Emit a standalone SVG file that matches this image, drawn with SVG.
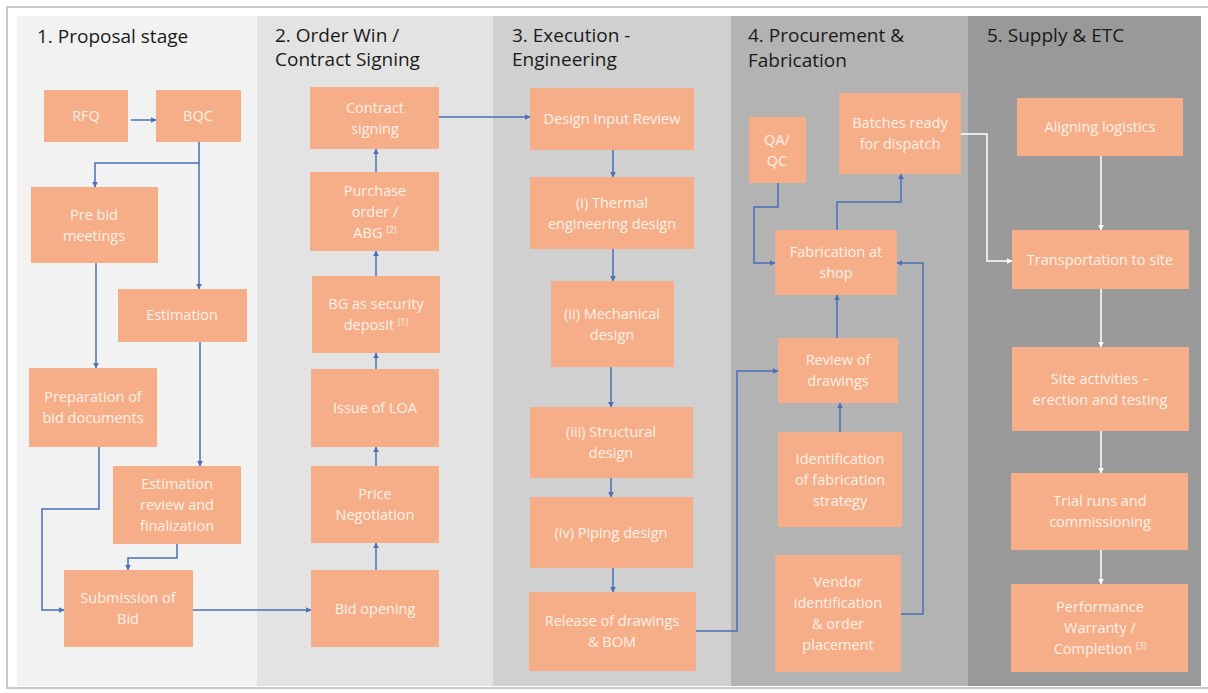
<svg xmlns="http://www.w3.org/2000/svg" width="1208" height="693" viewBox="0 0 1208 693">
<style>
.title{font-family:"Open Sans","Liberation Sans",sans-serif;font-size:19px;fill:#1a1a1a}
.node rect{fill:#f6ae89}
.node text{font-family:"Open Sans","Liberation Sans",sans-serif;font-size:14.5px;fill:#fdf1e8;text-anchor:middle}
.sup{font-size:8.5px}
.conn path{fill:none;stroke:#4a70b8;stroke-width:1.5}
.conn path.w{stroke:#ffffff}
</style>
<defs>
<marker id="ab" viewBox="0 0 10 10" refX="9" refY="5" markerWidth="6" markerHeight="6" orient="auto" markerUnits="userSpaceOnUse"><path d="M0,0 L10,5 L0,10 z" fill="#4a70b8"/></marker>
<marker id="aw" viewBox="0 0 10 10" refX="9" refY="5" markerWidth="6" markerHeight="6" orient="auto" markerUnits="userSpaceOnUse"><path d="M0,0 L10,5 L0,10 z" fill="#ffffff"/></marker>
</defs>
<rect x="0" y="0" width="1208" height="693" fill="#ffffff"/>
<rect x="7" y="7" width="1215" height="681" fill="#ffffff" stroke="#c8c8c8" stroke-width="2"/>
<g id="panels">
<rect x="17" y="16" width="240" height="670" fill="#f2f2f2"/>
<rect x="257" y="16" width="236" height="670" fill="#e3e3e3"/>
<rect x="493" y="16" width="238" height="670" fill="#d0d0d0"/>
<rect x="731" y="16" width="237" height="670" fill="#b3b3b3"/>
<rect x="968" y="16" width="233" height="670" fill="#999999"/>
</g>
<g id="titles">
<text class="title" x="37" y="43">1. Proposal stage</text>
<text class="title" x="275" y="42">2. Order Win /</text>
<text class="title" x="275" y="66">Contract Signing</text>
<text class="title" x="512" y="42">3. Execution -</text>
<text class="title" x="512" y="66">Engineering</text>
<text class="title" x="748" y="42">4. Procurement &amp;</text>
<text class="title" x="748" y="67">Fabrication</text>
<text class="title" x="987" y="42">5. Supply &amp; ETC</text>
</g>
<g id="connectors" class="conn">
<path d="M131,120 H156" marker-end="url(#ab)"/>
<path d="M199,142 V163 H95 V187" marker-end="url(#ab)"/>
<path d="M199,163 V289" marker-end="url(#ab)"/>
<path d="M96,263 V368" marker-end="url(#ab)"/>
<path d="M200,342 V466" marker-end="url(#ab)"/>
<path d="M99,447 V509 H42 V610 H64" marker-end="url(#ab)"/>
<path d="M177,544 V558 H128 V570" marker-end="url(#ab)"/>
<path d="M193,610 H311" marker-end="url(#ab)"/>
<path d="M376,570 V543" marker-end="url(#ab)"/>
<path d="M376,466 V447" marker-end="url(#ab)"/>
<path d="M376,369 V353" marker-end="url(#ab)"/>
<path d="M376,276 V251" marker-end="url(#ab)"/>
<path d="M376,172 V149" marker-end="url(#ab)"/>
<path d="M439,117 H530" marker-end="url(#ab)"/>
<path d="M613,150 V177" marker-end="url(#ab)"/>
<path d="M613,249 V281" marker-end="url(#ab)"/>
<path d="M611,367 V407" marker-end="url(#ab)"/>
<path d="M611,478 V497" marker-end="url(#ab)"/>
<path d="M613,568 V592" marker-end="url(#ab)"/>
<path d="M696,631 H737 V371 H778" marker-end="url(#ab)"/>
<path d="M778,183 V207 H754 V263 H775" marker-end="url(#ab)"/>
<path d="M837,230 V202 H901 V174" marker-end="url(#ab)"/>
<path d="M837,338 V295" marker-end="url(#ab)"/>
<path d="M840,432 V403" marker-end="url(#ab)"/>
<path d="M901,614 H923 V263 H897" marker-end="url(#ab)"/>
<path class="w" d="M961,134 H987 V261 H1012" marker-end="url(#aw)"/>
<path class="w" d="M1101,156 V230" marker-end="url(#aw)"/>
<path class="w" d="M1101,289 V347" marker-end="url(#aw)"/>
<path class="w" d="M1101,431 V473" marker-end="url(#aw)"/>
<path class="w" d="M1101,550 V584" marker-end="url(#aw)"/>
</g>
<g id="rfq" class="node"><rect x="44" y="90" width="84" height="52"/><text x="86" y="121">RFQ</text></g>
<g id="bqc" class="node"><rect x="156" y="90" width="85" height="52"/><text x="198" y="121">BQC</text></g>
<g id="prebid" class="node"><rect x="31" y="187" width="127" height="76"/><text x="94" y="219.5">Pre bid</text><text x="94" y="240.5">meetings</text></g>
<g id="estimation" class="node"><rect x="118" y="289" width="129" height="53"/><text x="182" y="320">Estimation</text></g>
<g id="prep" class="node"><rect x="29" y="368" width="128" height="79"/><text x="93" y="402">Preparation of</text><text x="93" y="423">bid documents</text></g>
<g id="estreview" class="node"><rect x="113" y="466" width="128" height="78"/><text x="177" y="489">Estimation</text><text x="177" y="510">review and</text><text x="177" y="531">finalization</text></g>
<g id="submission" class="node"><rect x="64" y="570" width="129" height="77"/><text x="128" y="603">Submission of</text><text x="128" y="624">Bid</text></g>
<g id="contract" class="node"><rect x="310" y="87" width="129" height="62"/><text x="375" y="112.5">Contract</text><text x="375" y="133.5">signing</text></g>
<g id="po" class="node"><rect x="310" y="172" width="129" height="79"/><text x="375" y="195.5">Purchase</text><text x="375" y="216.5">order /</text><text x="375" y="237.5">ABG <tspan class="sup" dy="-5">[2]</tspan></text></g>
<g id="bg" class="node"><rect x="312" y="276" width="128" height="77"/><text x="376" y="309">BG as security</text><text x="376" y="330">deposit <tspan class="sup" dy="-5">[1]</tspan></text></g>
<g id="loa" class="node"><rect x="311" y="369" width="128" height="78"/><text x="375" y="413">Issue of LOA</text></g>
<g id="price" class="node"><rect x="311" y="466" width="128" height="77"/><text x="375" y="499">Price</text><text x="375" y="520">Negotiation</text></g>
<g id="bidopen" class="node"><rect x="311" y="570" width="128" height="77"/><text x="375" y="613.5">Bid opening</text></g>
<g id="dir" class="node"><rect x="530" y="88" width="164" height="62"/><text x="612" y="124">Design Input Review</text></g>
<g id="thermal" class="node"><rect x="530" y="177" width="164" height="72"/><text x="612" y="207.5">(i) Thermal</text><text x="612" y="228.5">engineering design</text></g>
<g id="mech" class="node"><rect x="551" y="281" width="123" height="86"/><text x="612" y="318.5">(ii) Mechanical</text><text x="612" y="339.5">design</text></g>
<g id="struct" class="node"><rect x="530" y="407" width="163" height="71"/><text x="611" y="437">(iii) Structural</text><text x="611" y="458">design</text></g>
<g id="piping" class="node"><rect x="530" y="497" width="163" height="71"/><text x="611" y="537.5">(iv) Piping design</text></g>
<g id="release" class="node"><rect x="529" y="592" width="167" height="79"/><text x="612" y="626">Release of drawings</text><text x="612" y="647">&amp; BOM</text></g>
<g id="qaqc" class="node"><rect x="749" y="117" width="57" height="66"/><text x="777" y="144.5">QA/</text><text x="777" y="165.5">QC</text></g>
<g id="batches" class="node"><rect x="839" y="93" width="122" height="81"/><text x="900" y="128">Batches ready</text><text x="900" y="149">for dispatch</text></g>
<g id="fab" class="node"><rect x="775" y="230" width="122" height="65"/><text x="836" y="257">Fabrication at</text><text x="836" y="278">shop</text></g>
<g id="reviewdr" class="node"><rect x="778" y="338" width="120" height="65"/><text x="838" y="365">Review of</text><text x="838" y="386">drawings</text></g>
<g id="ident" class="node"><rect x="778" y="432" width="124" height="95"/><text x="840" y="463.5">Identification</text><text x="840" y="484.5">of fabrication</text><text x="840" y="505.5">strategy</text></g>
<g id="vendor" class="node"><rect x="775" y="555" width="126" height="117"/><text x="838" y="587">Vendor</text><text x="838" y="608">identification</text><text x="838" y="629">&amp; order</text><text x="838" y="650">placement</text></g>
<g id="logistics" class="node"><rect x="1017" y="98" width="166" height="58"/><text x="1100" y="132">Aligning logistics</text></g>
<g id="transport" class="node"><rect x="1012" y="230" width="177" height="59"/><text x="1100" y="264.5">Transportation to site</text></g>
<g id="site" class="node"><rect x="1012" y="347" width="177" height="84"/><text x="1100" y="383.5">Site activities –</text><text x="1100" y="404.5">erection and testing</text></g>
<g id="trial" class="node"><rect x="1011" y="473" width="177" height="77"/><text x="1100" y="506">Trial runs and</text><text x="1100" y="527">commissioning</text></g>
<g id="perf" class="node"><rect x="1011" y="584" width="177" height="88"/><text x="1100" y="612">Performance</text><text x="1100" y="633">Warranty /</text><text x="1100" y="654">Completion <tspan class="sup" dy="-5">[3]</tspan></text></g>
</svg>
